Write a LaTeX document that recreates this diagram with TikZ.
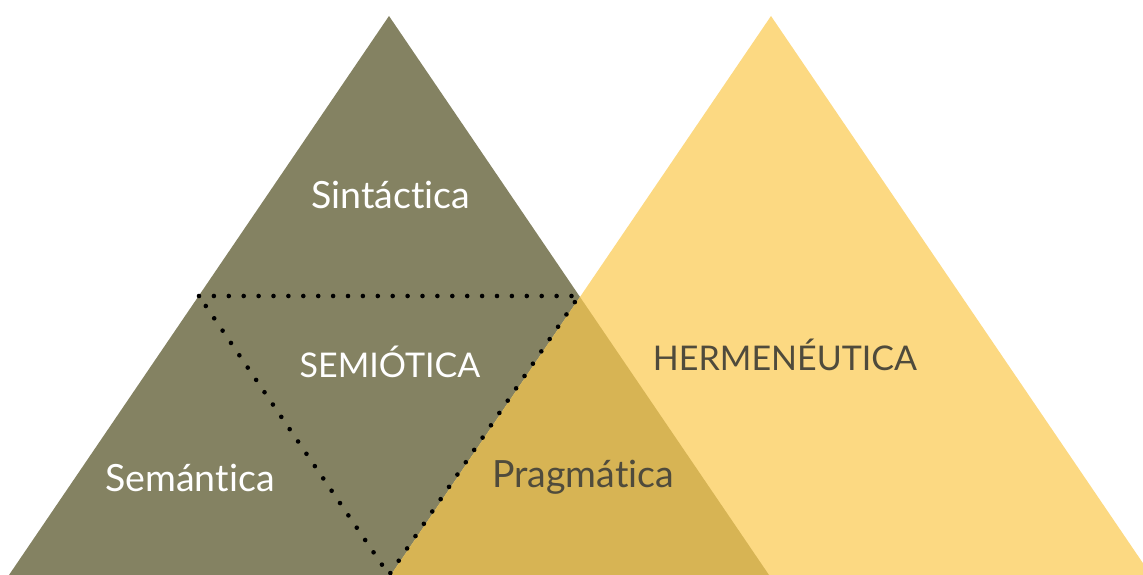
\documentclass[tikz,border=0pt]{standalone}
\usepackage{fontspec}
\setmainfont{Lato}[Ligatures=NoCommon]
\definecolor{olive}{HTML}{848262}
\definecolor{sand}{HTML}{FCD982}
\definecolor{gold}{HTML}{D7B454}
\definecolor{darktext}{HTML}{4F4B3C}
\begin{document}
\begin{tikzpicture}[x=1pt,y=-1pt,
  lbl/.style={inner sep=0pt, anchor=base, font=\fontsize{37.5}{40}\selectfont},
  lightlbl/.style={lbl, text=white},
  darklbl/.style={lbl, text=darktext},
  capslbl/.style={font=\fontsize{34}{36}\selectfont},
  dotline/.style={line width=4.6pt, line cap=round, dash pattern=on 0pt off 14.9pt}]
\useasboundingbox (0,0) rectangle (1143,575);
% left triangle
\coordinate (LA) at (389,16);
\coordinate (LL) at (9,575);
\coordinate (LR) at (769,575);
% right triangle
\coordinate (RA) at (771,16);
\coordinate (RL) at (391,575);
\coordinate (RR) at (1151,575);
% overlap apex
\coordinate (OA) at (580,297);
% medial triangle
\coordinate (M1) at (199,296);
\coordinate (M2) at (579,296);
\coordinate (M3) at (389,575);
\fill[olive] (LA) -- (LL) -- (LR) -- cycle;
\fill[sand] (RA) -- (RL) -- (RR) -- cycle;
\fill[gold] (OA) -- (RL) -- (LR) -- cycle;
\draw[dotline] (M1) -- (M2) -- (M3) -- cycle;
\node[lightlbl] (sint) at (391,208) {Sintáctica};
\node[lightlbl, capslbl] (semio) at (390,377) {SEMIÓTICA};
\node[lightlbl] (sema) at (190,491) {Semántica};
\node[darklbl] (prag) at (583,487) {Pragmática};
\node[darklbl, capslbl] (herm) at (785,370) {HERMENÉUTICA};
\end{tikzpicture}
\end{document}
